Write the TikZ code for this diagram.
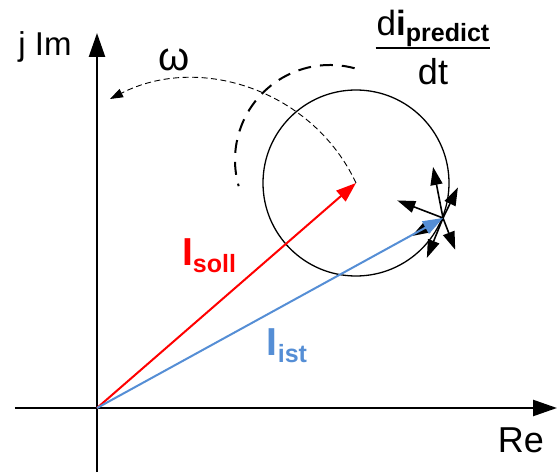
\documentclass[tikz,border=0pt]{standalone}
\usepackage{fontspec}
\setmainfont{Liberation Sans}
\usetikzlibrary{arrows.meta, positioning}
\definecolor{sollred}{RGB}{255,0,0}
\definecolor{istblue}{RGB}{85,142,213}
\tikzset{
  axis/.style={line width=2.4pt, -{Triangle[length=24pt,width=16pt]}},
  phasor/.style={line width=2pt, -{Triangle[length=20pt,width=14pt]}},
  deriv/.style={line width=1.6pt, -{Triangle[length=18pt,width=12pt]}},
  bigtext/.style={font=\fontsize{33}{33}\selectfont, inner sep=0pt}
}
\begin{document}
\begin{tikzpicture}[x=1pt,y=1pt]
\useasboundingbox (-97,-64) rectangle (460,408);

  % Axes
  \coordinate (O) at (0,0);
  \coordinate (xl) at (-82,0);
  \coordinate (xr) at (460,0);
  \coordinate (yb) at (0,-64);
  \coordinate (yt) at (0,375);
  \draw[axis] (xl) -- (xr);
  \draw[axis] (yb) -- (yt);
  \node[bigtext] (im) at (-52,361) {j Im};
  \node[bigtext, font=\fontsize{36}{36}\selectfont] (re) at (424,-32) {Re};

  % Soll-Zeiger und Kreis um die Spitze
  \coordinate (S) at (259,225);
  \coordinate (P) at (346,190);
  \draw[line width=1.3pt] (S) circle (93pt);
  \draw[line width=2pt, dash pattern=on 13pt off 9pt]
    ([shift={(75:95pt)}]233,248) arc[start angle=75, end angle=196, radius=95pt];

  % Drehung omega
  \coordinate (w) at (13,309);
  \draw[line width=0.9pt, dash pattern=on 6pt off 3.5pt, -{Triangle[length=13pt,width=9pt]}]
    (S) to[out=115, in=27] (w);
  \node[bigtext, font=\fontsize{40}{40}\selectfont] (omega) at (77,348) {ω};

  % moegliche Stromaenderungen
  \foreach \a/\l [count=\i] in {101/52, 64/34, 159/49, 210/36, 248/43, 291/34}
    \draw[deriv] (P) -- ++(\a:\l) coordinate (d\i);

  % Zeiger
  \draw[phasor, sollred] (O) -- (S);
  \draw[phasor, istblue] (O) -- (P);

  \node[sollred, inner sep=0pt] (soll) at (112,152)
    {\fontsize{39}{39}\selectfont\bfseries I\raisebox{-7pt}{\fontsize{25}{25}\selectfont soll}};
  \node[istblue, inner sep=0pt] (ist) at (190,62)
    {\fontsize{39}{39}\selectfont\bfseries I\raisebox{-7pt}{\fontsize{25}{25}\selectfont ist}};

  % di/dt
  \node[anchor=south, inner sep=1pt] (num) at (336,360)
    {\fontsize{35}{35}\selectfont d\textbf{i}\raisebox{-6pt}{\fontsize{25}{25}\selectfont\bfseries predict}};
  \draw[line width=1.8pt] (num.south west) -- (num.south east);
  \node[bigtext, font=\fontsize{36}{36}\selectfont, below=10pt of num] (den) {dt};
\end{tikzpicture}
\end{document}
